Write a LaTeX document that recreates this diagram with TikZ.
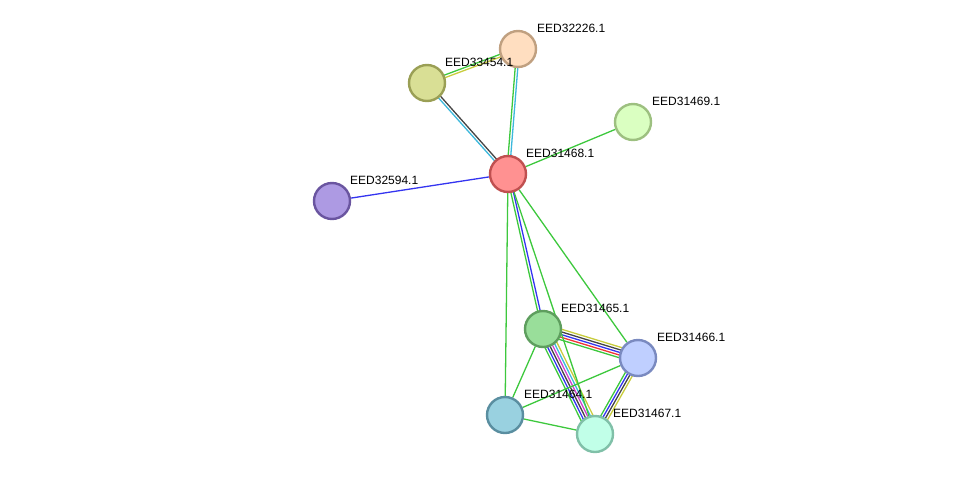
\documentclass[tikz,border=0pt]{standalone}
\usepackage{fontspec}
\setmainfont{Liberation Sans}
\usetikzlibrary{calc}
\pgfdeclarelayer{bg}
\pgfsetlayers{bg,main}

\definecolor{egreen}{HTML}{3DC83D}
\definecolor{eblue}{HTML}{3434F0}
\definecolor{ecyan}{HTML}{3CB8DC}
\definecolor{egray}{HTML}{444444}
\definecolor{eyellow}{HTML}{C8CC3C}
\definecolor{ered}{HTML}{F03434}
\definecolor{emagenta}{HTML}{D040D0}

\tikzset{
  prot/.style={circle,minimum size=36pt,inner sep=0pt,line width=2.4pt},
  lbl/.style={anchor=west,inner sep=0pt,font=\fontsize{12}{12}\selectfont},
  edge/.style={line width=1.3pt}
}

% bundle of parallel edges: from, to, number of lines, colours
\newcommand{\bundle}[4]{%
  \foreach \c [count=\i] in {#4} {
    \pgfmathsetmacro{\o}{((#3+1)/2-\i)*2.6}
    \draw[edge,\c] ($(#1.center)!\o pt!90:(#2.center)$) -- ($(#2.center)!\o pt!-90:(#1.center)$);
  }%
}

\begin{document}
\begin{tikzpicture}[x=1pt,y=-1pt]
\useasboundingbox (0,0) rectangle (975,480);

\node[prot,fill={rgb,255:red,255;green,145;blue,145},draw={rgb,255:red,192;green,80;blue,80}] (n68) at (508,174) {};
\node[prot,fill={rgb,255:red,255;green,222;blue,192},draw={rgb,255:red,192;green,160;blue,128}] (n26) at (518,49) {};
\node[prot,fill={rgb,255:red,217;green,223;blue,149},draw={rgb,255:red,154;green,159;blue,85}] (n54) at (427,83) {};
\node[prot,fill={rgb,255:red,218;green,255;blue,193},draw={rgb,255:red,157;green,192;blue,128}] (n69) at (633,122) {};
\node[prot,fill={rgb,255:red,173;green,154;blue,227},draw={rgb,255:red,106;green,85;blue,160}] (n94) at (332,201) {};
\node[prot,fill={rgb,255:red,153;green,222;blue,154},draw={rgb,255:red,94;green,158;blue,94}] (n65) at (543,329) {};
\node[prot,fill={rgb,255:red,191;green,207;blue,255},draw={rgb,255:red,122;green,138;blue,192}] (n66) at (638,358) {};
\node[prot,fill={rgb,255:red,153;green,209;blue,224},draw={rgb,255:red,90;green,142;blue,160}] (n64) at (505,415) {};
\node[prot,fill={rgb,255:red,193;green,255;blue,232},draw={rgb,255:red,128;green,192;blue,168}] (n67) at (595,434) {};

\node[lbl] at ($(n68)+(18,-21)$) {EED31468.1};
\node[lbl] at ($(n26)+(19,-21)$) {EED32226.1};
\node[lbl] at ($(n54)+(18,-21)$) {EED33454.1};
\node[lbl] at ($(n69)+(19,-21)$) {EED31469.1};
\node[lbl] at ($(n94)+(18,-21)$) {EED32594.1};
\node[lbl] at ($(n65)+(18,-21)$) {EED31465.1};
\node[lbl] at ($(n66)+(19,-21)$) {EED31466.1};
\node[lbl] at ($(n64)+(19,-21)$) {EED31464.1};
\node[lbl] at ($(n67)+(18,-21)$) {EED31467.1};

\begin{pgfonlayer}{bg}
\bundle{n68}{n26}{2}{egreen,ecyan}
\bundle{n68}{n54}{2}{ecyan,egray}
\bundle{n54}{n26}{2}{egreen,eyellow}
\bundle{n68}{n65}{2}{eblue,egreen}
\bundle{n65}{n66}{5}{eyellow,egray,eblue,ered,egreen}
\bundle{n65}{n67}{6}{eyellow,ecyan,emagenta,egray,eblue,egreen}
\bundle{n66}{n67}{4}{eyellow,egray,eblue,egreen}
\draw[edge,egreen] (n68) -- (n69);
\draw[edge,eblue] (n68) -- (n94);
\draw[edge,egreen] (n68) -- (n67);
\draw[edge,egreen] (n68) -- (n66);
\draw[edge,egreen] (n68) -- (n64);
\draw[edge,egreen] (n65) -- (n64);
\draw[edge,egreen] (n66) -- (n64);
\draw[edge,egreen] (n64) -- (n67);
\end{pgfonlayer}

\end{tikzpicture}
\end{document}
